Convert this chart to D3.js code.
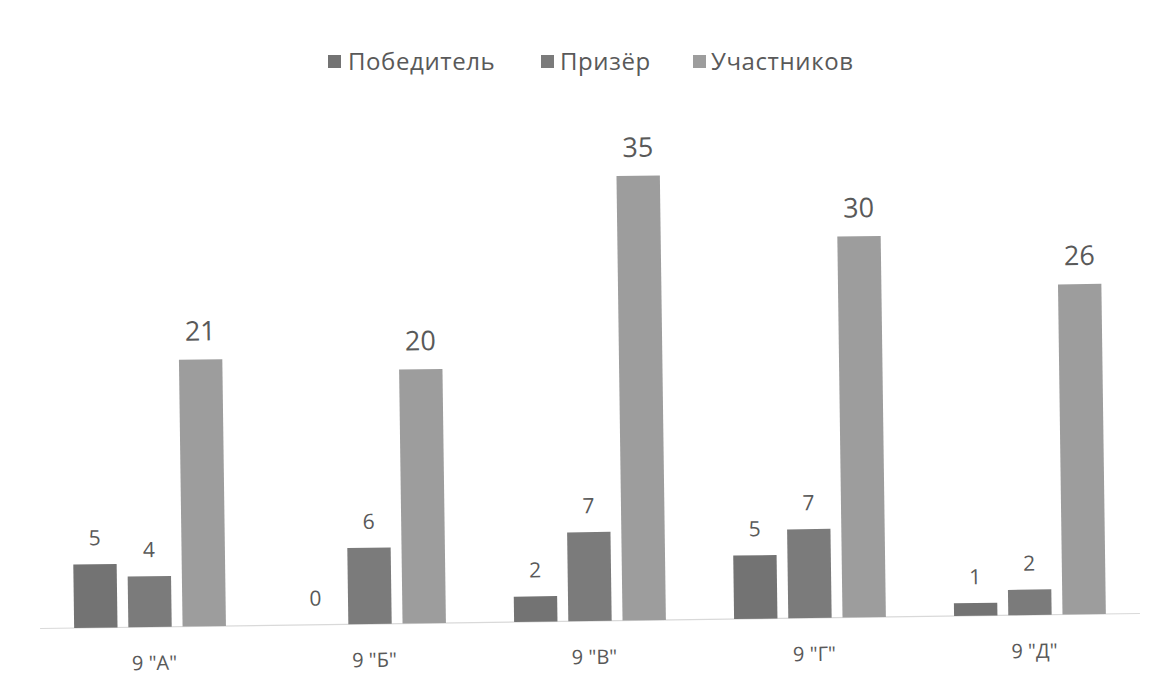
<!DOCTYPE html>
<html>
<head>
<meta charset="utf-8">
<script src="https://cdn.jsdelivr.net/npm/d3@7/dist/d3.min.js"></script>
<style>
  html, body { margin: 0; padding: 0; background: #fff; }
  svg { display: block; }
  text { font-family: "Open Sans", "Noto Sans", sans-serif; fill: #595959; }
</style>
</head>
<body>
<svg id="chart" width="1163" height="689"></svg>
<script>
const categories = ['9 "А"', '9 "Б"', '9 "В"', '9 "Г"', '9 "Д"'];
const seriesNames = ["Победитель", "Призёр", "Участников"];
const winners = [5, 0, 2, 5, 1];
const prizewinners = [4, 6, 7, 7, 2];
const participants = [21, 20, 35, 30, 26];
const seriesColors = ["#737373", "#7b7b7b", "#9d9d9d"];

const seriesValues = [winners, prizewinners, participants];
const W = 1163, H = 689;
const left = 40, right = 1140, baseline = 621;

const svg = d3.select("#chart");
svg.append("rect").attr("width", W).attr("height", H).attr("fill", "#fff");

const g = svg.append("g").attr("transform", `rotate(-0.78, 590, ${baseline})`);

const x0 = d3.scaleBand().domain(categories).range([left, right]).paddingInner(0.31).paddingOuter(0.155);
const x1 = d3.scaleBand().domain(seriesNames).range([0, x0.bandwidth()]).paddingInner(0.2);
const y = d3.scaleLinear().domain([0, 40]).range([baseline, baseline - 508]);

// baseline
g.append("line").attr("x1", left).attr("x2", right).attr("y1", baseline).attr("y2", baseline)
  .attr("stroke", "#d9d9d9").attr("stroke-width", 1.2);

// bars
categories.forEach((c, i) => {
  seriesNames.forEach((s, j) => {
    const v = seriesValues[j][i];
    const bx = x0(c) + x1(s);
    g.append("rect")
      .attr("x", bx).attr("y", y(v))
      .attr("width", x1.bandwidth()).attr("height", baseline - y(v))
      .attr("fill", seriesColors[j]);
    g.append("text")
      .attr("x", bx + x1.bandwidth() / 2)
      .attr("y", y(v) - 19)
      .attr("text-anchor", "middle")
      .attr("font-size", j === 2 ? 27 : 21)
      .text(v);
  });
});

// x axis labels
const xAxis = d3.axisBottom(x0).tickSize(0).tickPadding(0);
const ax = g.append("g").attr("transform", `translate(4, ${baseline + 43})`).call(xAxis);
ax.select(".domain").remove();
ax.selectAll("text").attr("font-size", 20).attr("fill", "#595959")
  .style("font-family", '"Open Sans", sans-serif').attr("dy", 0);

// legend
const legendMarkX = [328, 541, 693];
const legendTextX = [348, 560, 711];
const legend = svg.append("g");
seriesNames.forEach((s, j) => {
  legend.append("rect").attr("x", legendMarkX[j]).attr("y", 55).attr("width", 13).attr("height", 13)
    .attr("fill", seriesColors[j]);
  legend.append("text").attr("x", legendTextX[j]).attr("y", 70)
    .attr("font-size", 24).attr("letter-spacing", 0.6).text(s);
});
</script>
</body>
</html>
